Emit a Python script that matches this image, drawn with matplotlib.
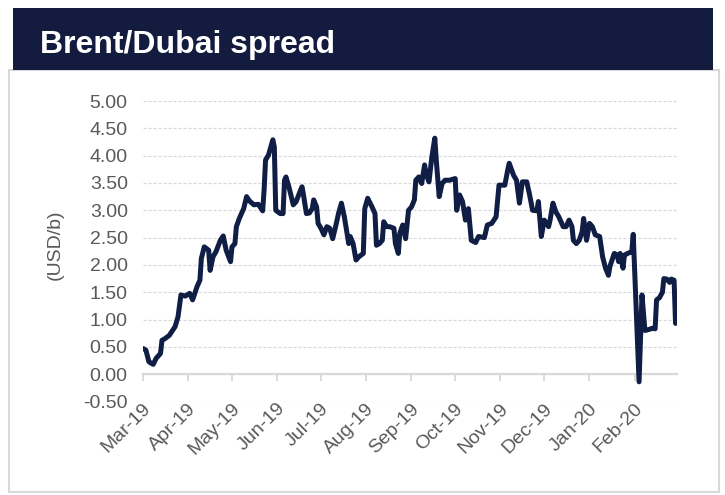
import matplotlib
matplotlib.use('Agg')
import matplotlib.pyplot as plt
import matplotlib.dates as mdates
import matplotlib.transforms as mtransforms
from matplotlib.patches import Rectangle
import numpy as np
import pandas as pd

plt.rcParams['font.family'] = ['Liberation Sans', 'DejaVu Sans']

# data
dates = [
    '2019-03-01', '2019-03-03', '2019-03-05', '2019-03-06', '2019-03-08', '2019-03-10',
    '2019-03-13', '2019-03-14', '2019-03-16', '2019-03-19', '2019-03-23', '2019-03-25',
    '2019-03-27', '2019-03-30', '2019-04-02', '2019-04-04', '2019-04-07', '2019-04-09',
    '2019-04-10', '2019-04-12', '2019-04-15', '2019-04-16', '2019-04-18', '2019-04-20',
    '2019-04-23', '2019-04-25', '2019-04-27', '2019-04-30', '2019-05-01', '2019-05-03',
    '2019-05-04', '2019-05-06', '2019-05-09', '2019-05-11', '2019-05-13', '2019-05-16',
    '2019-05-19', '2019-05-22', '2019-05-23', '2019-05-24', '2019-05-26', '2019-05-29',
    '2019-05-30', '2019-05-31', '2019-06-03', '2019-06-05', '2019-06-06', '2019-06-07',
    '2019-06-09', '2019-06-12', '2019-06-14', '2019-06-17', '2019-06-18', '2019-06-19',
    '2019-06-21', '2019-06-23', '2019-06-25', '2019-06-26', '2019-06-28', '2019-06-29',
    '2019-07-01', '2019-07-03', '2019-07-05', '2019-07-07', '2019-07-09', '2019-07-11',
    '2019-07-13', '2019-07-15', '2019-07-17', '2019-07-20', '2019-07-21', '2019-07-23',
    '2019-07-25', '2019-07-27', '2019-07-30', '2019-07-31', '2019-08-02', '2019-08-05',
    '2019-08-07', '2019-08-08', '2019-08-10', '2019-08-12', '2019-08-13', '2019-08-15',
    '2019-08-17', '2019-08-20', '2019-08-21', '2019-08-23', '2019-08-24', '2019-08-26',
    '2019-08-28', '2019-08-30', '2019-09-01', '2019-09-03', '2019-09-04', '2019-09-06',
    '2019-09-08', '2019-09-10', '2019-09-11', '2019-09-13', '2019-09-15', '2019-09-17',
    '2019-09-18', '2019-09-20', '2019-09-22', '2019-09-24', '2019-09-27', '2019-10-01',
    '2019-10-02', '2019-10-04', '2019-10-06', '2019-10-08', '2019-10-10', '2019-10-12',
    '2019-10-15', '2019-10-17', '2019-10-21', '2019-10-23', '2019-10-26', '2019-10-29',
    '2019-10-31', '2019-11-04', '2019-11-06', '2019-11-07', '2019-11-10', '2019-11-12',
    '2019-11-14', '2019-11-16', '2019-11-19', '2019-11-21', '2019-11-23', '2019-11-26',
    '2019-11-27', '2019-11-29', '2019-12-01', '2019-12-04', '2019-12-05', '2019-12-07',
    '2019-12-09', '2019-12-11', '2019-12-14', '2019-12-16', '2019-12-18', '2019-12-20',
    '2019-12-21', '2019-12-23', '2019-12-25', '2019-12-27', '2019-12-28', '2019-12-30',
    '2020-01-01', '2020-01-03', '2020-01-05', '2020-01-08', '2020-01-10', '2020-01-12',
    '2020-01-14', '2020-01-15', '2020-01-18', '2020-01-20', '2020-01-21', '2020-01-22',
    '2020-01-24', '2020-01-25', '2020-01-28', '2020-01-30', '2020-01-31', '2020-02-04',
    '2020-02-06', '2020-02-08', '2020-02-11', '2020-02-13', '2020-02-15', '2020-02-16',
    '2020-02-18', '2020-02-20', '2020-02-21', '2020-02-23', '2020-02-25', '2020-02-26',
    '2020-02-28', '2020-02-29',
]
spread = [
    0.47, 0.44, 0.23, 0.21, 0.18, 0.29,
    0.38, 0.62, 0.65, 0.71, 0.87, 1.05,
    1.45, 1.43, 1.48, 1.36, 1.60, 1.72,
    2.12, 2.33, 2.27, 1.90, 2.15, 2.24,
    2.45, 2.53, 2.27, 2.06, 2.33, 2.39,
    2.70, 2.85, 3.03, 3.25, 3.17, 3.10,
    3.11, 2.99, 3.37, 3.92, 4.01, 4.29,
    4.16, 3.00, 2.94, 2.94, 3.55, 3.61,
    3.43, 3.10, 3.16, 3.37, 3.43, 3.28,
    2.94, 2.95, 3.03, 3.19, 3.06, 2.76,
    2.67, 2.55, 2.70, 2.67, 2.48, 2.70,
    2.94, 3.13, 2.88, 2.39, 2.52, 2.39,
    2.09, 2.15, 2.21, 3.03, 3.22, 3.06,
    2.94, 2.36, 2.39, 2.45, 2.79, 2.70,
    2.70, 2.67, 2.39, 2.21, 2.58, 2.73,
    2.48, 3.00, 3.06, 3.19, 3.55, 3.61,
    3.49, 3.83, 3.67, 3.52, 3.98, 4.32,
    3.92, 3.25, 3.49, 3.55, 3.55, 3.58,
    3.00, 3.28, 3.16, 2.82, 3.03, 2.45,
    2.41, 2.52, 2.50, 2.73, 2.76, 2.88,
    3.46, 3.46, 3.74, 3.86, 3.64, 3.55,
    3.13, 3.52, 3.52, 3.28, 3.00, 2.99,
    3.16, 2.52, 2.82, 2.70, 2.82, 3.13,
    2.97, 2.88, 2.70, 2.70, 2.82, 2.70,
    2.45, 2.39, 2.45, 2.61, 2.85, 2.45,
    2.76, 2.70, 2.55, 2.52, 2.15, 1.94,
    1.81, 1.97, 2.21, 2.18, 2.06, 2.21,
    1.94, 2.18, 2.22, 2.24, 2.56, -0.14,
    1.45, 0.80, 0.82, 0.84, 0.83, 1.36,
    1.40, 1.50, 1.75, 1.74, 1.68, 1.74,
    1.72, 0.93,
]

x_start = '2019-03-01'
x_end = '2020-03-01'
month_ticks = pd.date_range('2019-03-01', '2020-02-01', freq='MS')
y_ticks = np.arange(-0.5, 5.01, 0.5)

navy = '#101e46'
grey_text = '#595959'
grey_line = '#d9d9d9'

W, H = 725, 495
fig = plt.figure(figsize=(W / 100, H / 100), dpi=100)

# outer box + title banner
fig.add_artist(Rectangle((9 / W, 1 - 492 / H), 710 / W, 422 / H, transform=fig.transFigure,
                         facecolor='white', edgecolor=grey_line, linewidth=1.5, zorder=-5))
fig.add_artist(Rectangle((13 / W, 1 - 70 / H), 700 / W, 62 / H, transform=fig.transFigure,
                         facecolor='#131b3f', edgecolor='none', zorder=-4))
fig.text(40 / W, 1 - 53 / H, 'Brent/Dubai spread', color='white', fontsize=23,
         fontweight='bold', va='baseline', ha='left')

ax = fig.add_axes([143 / W, 1 - 401.5 / H, (677 - 143) / W, (401.5 - 101) / H])
ax.patch.set_alpha(0)

x = pd.to_datetime(dates)
ax.plot(x, spread, color=navy, linewidth=3.6, solid_joinstyle='round', solid_capstyle='round', zorder=3)

ax.set_xlim(pd.Timestamp(x_start), pd.Timestamp(x_end))
ax.set_ylim(-0.5, 5.0)
ax.set_yticks(y_ticks)
ax.yaxis.set_major_formatter(matplotlib.ticker.FormatStrFormatter('%.2f'))
ax.yaxis.grid(True, color=grey_line, linestyle=(0, (2.5, 1.5)), linewidth=0.9)
ax.set_axisbelow(True)

for s in ['left', 'right', 'top']:
    ax.spines[s].set_visible(False)
ax.spines['bottom'].set_position(('data', 0))
ax.spines['bottom'].set_color(grey_line)
ax.spines['bottom'].set_linewidth(1.6)
ax.spines['bottom'].set_zorder(2)

ax.tick_params(axis='y', length=0, pad=11, labelsize=14, labelcolor=grey_text)
ax.set_xticks(month_ticks)
ax.xaxis.set_major_formatter(mdates.DateFormatter('%b-%y'))
ax.tick_params(axis='x', direction='out', length=5, width=1.4, color=grey_line,
               pad=18, labelsize=14, labelcolor=grey_text)

shift = mtransforms.ScaledTranslation(5 / 100, 0, fig.dpi_scale_trans)
for lab in ax.get_xticklabels():
    lab.set_rotation(45)
    lab.set_ha('right')
    lab.set_va('center')
    lab.set_rotation_mode('anchor')
    lab.set_transform(lab.get_transform() + shift)

fig.text(55 / W, 1 - 245 / H, '(USD/b)', rotation=90, ha='center', va='center',
         fontsize=14, color=grey_text)

fig.savefig('out.png', dpi=100)
